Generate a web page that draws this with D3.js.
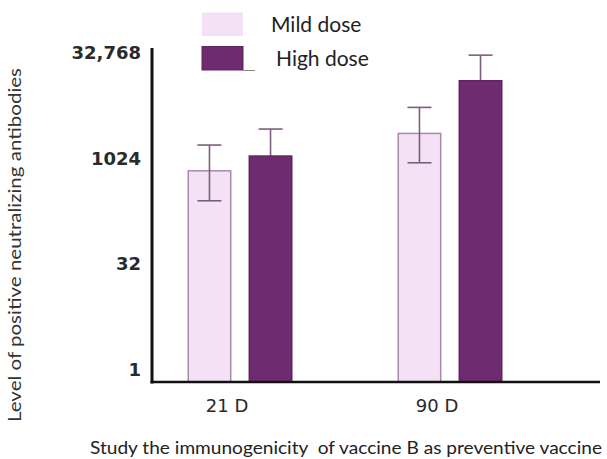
<!DOCTYPE html>
<html>
<head>
<meta charset="utf-8">
<script src="https://cdn.jsdelivr.net/npm/d3@7"></script>
<style>
  html, body { margin: 0; padding: 0; background: #fff; }
  svg { display: block; }
</style>
</head>
<body>
<svg id="chart" width="607" height="459"></svg>
<script>
// ---- data ----
const categories = ["21 D", "90 D"];
const seriesNames = ["Mild dose", "High dose"];
const mildValues = [685, 2340];
const mildLow = [256, 892];
const mildHigh = [1596, 5500];
const highValues = [1112, 13200];
const highLow = [458, 5700];
const highHigh = [2700, 30600];
const yTickValues = [1, 32, 1024, 32768];
const yTickLabels = ["1", "32", "1024", "32,768"];
const yDomain = [0.665, 38700];
const yTitle = "Level of positive neutralizing antibodies";
const xTitle = "Study the immunogenicity  of vaccine B as preventive vaccine";

const series = [
  { name: seriesNames[0], values: mildValues, lo: mildLow, hi: mildHigh, fill: "#f5e1f5", stroke: "#a68ba9", barsOver: false },
  { name: seriesNames[1], values: highValues, lo: highLow, hi: highHigh, fill: "#6f2b70", stroke: "#5e2461", barsOver: true }
];

const svg = d3.select("#chart");
const axisX = 152, baseY = 382, rightX = 600;

const x0 = d3.scaleBand().domain(categories).range([135, 555]).paddingInner(0.5).paddingOuter(0.25);
const x1 = d3.scaleBand().domain(seriesNames).range([0, x0.bandwidth()]).paddingInner(0.28);
const y = d3.scaleLog().base(2).domain(yDomain).range([baseY, 48]);

function drawErr(g, s, ci) {
  const cx = x1(s.name) + x1.bandwidth() / 2;
  const cap = 12;
  const eg = g.append("g").attr("stroke", "#7d5d7e").attr("stroke-width", 1.6);
  eg.append("line").attr("x1", cx).attr("x2", cx).attr("y1", y(s.hi[ci])).attr("y2", y(s.lo[ci]));
  eg.append("line").attr("x1", cx - cap).attr("x2", cx + cap).attr("y1", y(s.hi[ci])).attr("y2", y(s.hi[ci]));
  eg.append("line").attr("x1", cx - cap).attr("x2", cx + cap).attr("y1", y(s.lo[ci])).attr("y2", y(s.lo[ci]));
}

// bars
const groups = svg.append("g").selectAll("g")
  .data(categories).join("g")
  .attr("transform", d => `translate(${x0(d)},0)`);

groups.each(function(cat, ci) {
  const g = d3.select(this);
  series.forEach(s => { if (s.barsOver) drawErr(g, s, ci); });
  series.forEach(s => {
    const bx = x1(s.name), bw = x1.bandwidth();
    g.append("rect")
      .attr("x", bx + 0.75).attr("y", y(s.values[ci]))
      .attr("width", bw - 1.5).attr("height", baseY - y(s.values[ci]))
      .attr("fill", s.fill).attr("stroke", s.stroke).attr("stroke-width", 1.5);
  });
  series.forEach(s => { if (!s.barsOver) drawErr(g, s, ci); });
});

// y axis
const yAxis = d3.axisLeft(y).tickValues(yTickValues)
  .tickFormat((d, i) => yTickLabels[i]).tickSize(0).tickPadding(11);
const yg = svg.append("g").attr("transform", `translate(${axisX},0)`).call(yAxis);
yg.select(".domain").remove();
yg.selectAll("text")
  .attr("font-family", "DejaVu Sans").attr("font-weight", "bold")
  .attr("font-size", 18).attr("fill", "#2a2a2a");

// axis lines
svg.append("line").attr("x1", axisX).attr("x2", axisX).attr("y1", y.range()[1]).attr("y2", baseY + 1.5)
  .attr("stroke", "#111").attr("stroke-width", 3);
svg.append("line").attr("x1", axisX - 1.5).attr("x2", rightX).attr("y1", baseY).attr("y2", baseY)
  .attr("stroke", "#111").attr("stroke-width", 2.5);

// x axis labels
const xAxis = d3.axisBottom(x0).tickSize(0).tickPadding(17);
const xg = svg.append("g").attr("transform", `translate(-13,${baseY})`).call(xAxis);
xg.select(".domain").remove();
xg.selectAll("text")
  .attr("font-family", "DejaVu Sans").attr("font-size", 18).attr("fill", "#2a2a2a");

// titles
svg.append("text")
  .attr("transform", `translate(21,${245}) rotate(-90)`)
  .attr("text-anchor", "middle")
  .attr("font-family", "Lato").attr("font-size", 17).attr("fill", "#333")
  .attr("textLength", 354).attr("lengthAdjust", "spacingAndGlyphs")
  .text(yTitle);

svg.append("text")
  .attr("x", 90).attr("y", 454)
  .style("white-space", "pre")
  .attr("font-family", "Lato").attr("font-size", 18).attr("fill", "#222")
  .attr("textLength", 512).attr("lengthAdjust", "spacingAndGlyphs")
  .text(xTitle);

// legend
const legend = svg.append("g");
series.forEach((s, i) => {
  const ly = 12.5 + i * 34;
  legend.append("rect").attr("x", 202).attr("y", ly).attr("width", 41).attr("height", 23.5)
    .attr("fill", s.fill).attr("stroke", i === 0 ? "none" : s.stroke).attr("stroke-width", 1);
  legend.append("text").attr("x", i === 0 ? 271 : 276).attr("y", ly + 19)
    .attr("font-family", "Lato").attr("font-size", 21).attr("fill", "#222")
    .text(s.name);
});
legend.append("line").attr("x1", 243).attr("x2", 255).attr("y1", 70.5).attr("y2", 70.5)
  .attr("stroke", "#888").attr("stroke-width", 1);
</script>
</body>
</html>
